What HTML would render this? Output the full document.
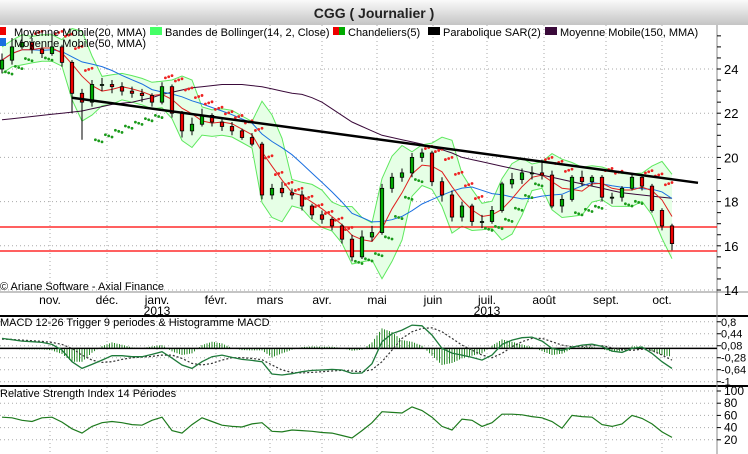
<!DOCTYPE html>
<html><head><meta charset="utf-8"><style>
html,body{margin:0;padding:0;background:#fff;}
svg{display:block;font-family:"Liberation Sans",sans-serif;}
</style></head><body>
<svg id="c" width="748" height="454" viewBox="0 0 748 454" xmlns="http://www.w3.org/2000/svg">
<defs><linearGradient id="tg" x1="0" y1="0" x2="0" y2="1"><stop offset="0" stop-color="#fafafa"/><stop offset="1" stop-color="#c4c4c4"/></linearGradient></defs>
<rect x="0" y="0" width="748" height="25" fill="url(#tg)"/>
<text x="374" y="18" text-anchor="middle" font-size="14" font-weight="bold" fill="#222">CGG  ( Journalier )</text>
<g id="grid"></g><g id="main"></g><g id="ind"></g>
<g font-size="11" fill="#000">
<rect x="0" y="27" width="6" height="8" fill="#e00"/>
<text x="14" y="36">Moyenne Mobile(20, MMA)</text>
<rect x="150" y="27" width="12" height="8" fill="#44ff66"/>
<text x="165" y="36">Bandes de Bollinger(14, 2, Close)</text>
<rect x="333" y="27" width="6" height="8" fill="#e00"/><rect x="339" y="27" width="6" height="8" fill="#0a0"/>
<text x="348" y="36">Chandeliers(5)</text>
<rect x="428" y="27" width="12" height="8" fill="#000"/>
<text x="443" y="36">Parabolique SAR(2)</text>
<rect x="545" y="27" width="12" height="8" fill="#3a0a3a"/>
<text x="560" y="36">Moyenne Mobile(150, MMA)</text>
<rect x="0" y="38" width="6" height="8" fill="#1a6fe0"/>
<text x="14" y="47">Moyenne Mobile(50, MMA)</text>
</g>
<text x="0" y="290" font-size="11" fill="#000">© Ariane Software - Axial Finance</text>
<text x="0" y="326" font-size="11">MACD 12-26   Trigger 9 periodes &amp; Histogramme MACD</text>
<text x="0" y="397" font-size="11">Relative Strength Index 14 Périodes</text>
</svg>
<script>
const closes=[24.4,25.0,25.2,24.9,24.7,25.0,24.3,22.9,22.5,23.3,23.3,23.2,23.0,22.9,22.8,22.5,23.2,22.0,21.2,21.5,21.9,21.6,21.4,21.2,20.9,20.6,18.3,18.6,18.4,18.3,17.8,17.4,17.2,16.9,16.3,15.5,16.4,16.6,18.6,19.1,19.3,20.0,20.2,18.9,18.3,17.3,17.8,17.1,17.1,17.6,18.8,19.0,19.3,19.3,19.2,17.8,18.1,19.1,18.9,19.1,18.2,18.2,18.6,19.1,18.7,17.6,16.9,16.1];
const opens=[24.0,24.4,25.0,25.2,24.9,24.7,25.0,24.3,22.9,22.5,23.3,23.3,23.2,23.0,22.9,22.8,22.5,23.2,22.0,21.2,21.5,21.9,21.6,21.4,21.2,20.9,20.6,18.3,18.6,18.4,18.3,17.8,17.4,17.2,16.9,16.3,15.5,16.4,16.6,18.6,19.1,19.3,20.0,20.2,18.9,18.3,17.3,17.8,17.1,17.1,17.6,18.8,19.0,19.3,19.3,19.2,17.8,18.1,19.1,18.9,19.1,18.2,18.2,18.6,19.1,18.7,17.6,16.9];
const highs=[24.7,25.4,25.6,25.4,25.1,25.6,25.1,24.4,23.1,23.5,23.6,23.5,23.4,23.2,23.1,22.9,23.4,23.3,22.1,21.8,22.2,22.0,21.8,21.6,21.3,21.1,20.7,18.8,18.9,18.6,18.5,17.9,17.6,17.3,17.0,16.5,16.7,16.9,18.8,19.3,19.5,20.2,20.4,20.3,19.1,18.5,18.0,17.9,17.4,17.8,18.9,19.3,19.5,19.6,19.9,19.4,18.3,19.2,19.4,19.2,19.2,18.4,18.7,19.3,19.2,18.8,17.7,17.0];
const lows=[23.8,24.2,24.9,24.7,24.5,24.6,24.1,22.0,20.8,22.3,23.0,22.9,22.8,22.7,22.5,22.3,22.4,21.8,20.9,21.0,21.4,21.4,21.2,21.0,20.8,20.5,18.1,18.1,18.2,18.1,17.6,17.2,17.0,16.7,16.1,15.3,15.4,16.2,16.5,18.4,18.9,19.1,19.8,18.7,18.0,17.1,17.1,16.9,16.8,17.0,17.5,18.6,18.8,19.0,19.0,17.7,17.5,18.0,18.7,18.7,18.0,17.9,18.0,18.5,18.5,17.5,16.7,15.8];
const ma150=[21.7,21.75,21.8,21.85,21.9,21.95,22.0,22.05,22.1,22.2,22.3,22.4,22.45,22.5,22.6,22.7,22.85,22.95,23.05,23.15,23.2,23.25,23.3,23.3,23.3,23.25,23.2,23.1,23.0,22.9,22.85,22.7,22.5,22.2,21.9,21.6,21.4,21.2,21.0,20.9,20.8,20.7,20.6,20.45,20.35,20.2,20.0,19.9,19.8,19.7,19.6,19.5,19.4,19.3,19.2,19.1,19.0,18.9,18.8,18.7,18.6,18.5,18.4,18.35,18.3,18.25,18.2,18.15];
const macd=[0.30,0.26,0.22,0.2,0.18,0.12,-0.05,-0.4,-0.6,-0.48,-0.35,-0.22,-0.22,-0.25,-0.25,-0.18,-0.1,-0.29,-0.5,-0.6,-0.4,-0.25,-0.2,-0.27,-0.33,-0.36,-0.4,-0.77,-0.8,-0.76,-0.7,-0.66,-0.65,-0.63,-0.65,-0.75,-0.74,-0.46,0.2,0.44,0.55,0.7,0.68,0.4,0.0,-0.14,-0.2,-0.27,-0.35,-0.2,0.12,0.25,0.32,0.34,0.22,0.0,-0.06,0.04,0.1,0.13,0.06,-0.08,-0.12,0.0,0.04,-0.15,-0.4,-0.6];
const signal=[0.28,0.27,0.25,0.23,0.21,0.18,0.12,0.0,-0.2,-0.35,-0.42,-0.4,-0.33,-0.28,-0.26,-0.24,-0.2,-0.2,-0.3,-0.45,-0.5,-0.45,-0.35,-0.28,-0.28,-0.3,-0.34,-0.5,-0.65,-0.72,-0.74,-0.72,-0.7,-0.68,-0.66,-0.68,-0.7,-0.64,-0.4,-0.05,0.3,0.5,0.6,0.62,0.5,0.3,0.1,-0.05,-0.2,-0.28,-0.15,0.05,0.2,0.3,0.3,0.2,0.1,0.05,0.06,0.08,0.08,0.02,-0.04,-0.06,-0.02,-0.06,-0.2,-0.35];
const rsi=[57,56,52,50,56,57,49,38,31,42,48,50,48,45,44,52,57,35,31,45,56,50,44,42,41,46,48,34,33,36,35,34,32,31,27,23,35,48,66,65,64,74,68,57,42,36,54,52,42,48,62,62,61,58,56,50,39,60,58,57,45,42,46,60,55,46,33,24];
const months=["nov.","déc.","janv.","févr.","mars","avr.","mai","juin","juil.","août","sept.","oct."];
const monthIdx=[4.8,10.5,15.5,21.4,26.8,32,37.5,43.1,48.5,54.2,60.4,66];
const priceTicks=[14,16,18,20,22,24];
const macdTicks=[0.8,0.44,0.08,-0.28,-0.64,-1];
const macdLabels=["0,8","0,44","0,08","-0,28","-0,64","-1"];
const rsiTicks=[20,40,60,80,100];
const trend=[[7,22.7],[69.6,18.85]];
const supports=[16.85,15.75];

const NS="http://www.w3.org/2000/svg";
const X=i=>2+10*i;
const PY=p=>69+(24-p)*22.1;
const MY=v=>348.4-v*33.3;
const RY=v=>452-v*0.61;
const AX=717;
function mk(t,a,par){const e=document.createElementNS(NS,t);for(const k in a)e.setAttribute(k,a[k]);(par||svg).appendChild(e);return e;}
const svg=document.getElementById('c');
const G=document.getElementById('grid'),M=document.getElementById('main'),I=document.getElementById('ind');

let r=mk('rect',{x:0,y:25,width:748,height:429,fill:'#fff'},G);


priceTicks.forEach(p=>{let l=mk('line',{x1:0,x2:AX,y1:PY(p),y2:PY(p),stroke:'#aaa','stroke-dasharray':'1,3'},G);

});
macdTicks.forEach(v=>{let l=mk('line',{x1:0,x2:AX,y1:MY(v),y2:MY(v),stroke:'#aaa','stroke-dasharray':'1,3'},G);

});
rsiTicks.forEach(v=>{let l=mk('line',{x1:0,x2:AX,y1:RY(v),y2:RY(v),stroke:'#aaa','stroke-dasharray':'1,3'},G);

});
monthIdx.forEach((m,k)=>{const x=X(m);
[[25,292],[317,386],[387,454]].forEach(s=>{let l=mk('line',{x1:x,x2:x,y1:s[0],y2:s[1],stroke:'#aaa','stroke-dasharray':'1,3'},G);

});
let t=mk('text',{x:x,y:304,'text-anchor':'middle','font-size':12,fill:'#000'},G);t.textContent=months[k];


if(months[k]==="janv."||months[k]==="juil."){let y=mk('text',{x:x,y:315,'text-anchor':'middle','font-size':12},G);y.textContent="2013";

}
});
[[292,1,'#888'],[316,2,'#000'],[386,2,'#000']].forEach(s=>{let l=mk('line',{x1:0,x2:748,y1:s[0],y2:s[0],stroke:s[2],'stroke-width':s[1]},G);

});
let ax=mk('line',{x1:AX,x2:AX,y1:25,y2:454,stroke:'#888'},G);


for(let p=13.5;p<=25.6;p+=0.5){const y=PY(p);if(y<27||y>292)continue;mk('line',{x1:AX,x2:AX+4,y1:y,y2:y,stroke:'#000'},G);}
priceTicks.forEach(p=>{let t=mk('text',{x:AX+7,y:PY(p)+5,'font-size':13},G);t.textContent=p;

});
macdTicks.forEach((v,k)=>{mk('line',{x1:AX,x2:AX+4,y1:MY(v),y2:MY(v),stroke:'#000'},G);let t=mk('text',{x:AX+4,y:MY(v)+4,'font-size':11},G);t.textContent=macdLabels[k];

});
rsiTicks.forEach(v=>{mk('line',{x1:AX,x2:AX+4,y1:RY(v),y2:RY(v),stroke:'#000'},G);let t=mk('text',{x:AX+7,y:RY(v)+4,'font-size':12},G);t.textContent=v;

});

const pts=(arr,fy)=>arr.map((v,i)=>X(i)+','+fy(v).toFixed(1)).join(' ');
function sma(n){return closes.map((c,i)=>{const s=closes.slice(Math.max(0,i-n+1),i+1);return s.reduce((a,b)=>a+b,0)/s.length;});}
const ma20=sma(4),ma50=sma(10);
const up=[],lo=[];
closes.forEach((c,i)=>{const s=closes.slice(Math.max(0,i-3),i+1);const m=s.reduce((a,b)=>a+b,0)/s.length;const sd=Math.sqrt(s.reduce((a,b)=>a+(b-m)*(b-m),0)/s.length);const w=Math.max(2*sd,0.6);up.push(m+w);lo.push(m-w);});
let band=mk('polygon',{points:pts(up,PY)+' '+lo.map((v,i)=>X(i)+','+PY(v).toFixed(1)).reverse().join(' '),fill:'#e6ffe6',stroke:'none'},M);


[up,lo].forEach(a=>{let l=mk('polyline',{points:pts(a,PY),fill:'none',stroke:'#5ee85e','stroke-width':1},M);

});
supports.forEach(p=>{const y=Math.round(PY(p));let l=mk('line',{x1:0,x2:AX,y1:y,y2:y,stroke:'#ff0000','stroke-width':1.3},M);

});
let l150=mk('polyline',{points:pts(ma150,PY),fill:'none',stroke:'#3a0a3a','stroke-width':1},M);


let l50=mk('polyline',{points:pts(ma50,PY),fill:'none',stroke:'#1a6fe0','stroke-width':1},M);


let l20=mk('polyline',{points:pts(ma20,PY),fill:'none',stroke:'#e02020','stroke-width':1},M);


(function(){let longT=closes[1]>closes[0],af=0.08,ep=longT?highs[0]:lows[0],sar=longT?lows[0]:highs[0];const out=[];
for(let i=1;i<closes.length;i++){sar=sar+af*(ep-sar);
if(longT){if(lows[i]<sar){longT=false;sar=ep;ep=lows[i];af=0.08;}else{if(highs[i]>ep){ep=highs[i];af=Math.min(af+0.08,0.4);}}}
else{if(highs[i]>sar){longT=true;sar=ep;ep=highs[i];af=0.08;}else{if(lows[i]<ep){ep=lows[i];af=Math.min(af+0.08,0.4);}}}
out.push([i,sar,longT]);}
out.forEach(o=>{for(let k=0;k<3;k++){let d=mk('circle',{cx:X(o[0])-6.6+3.3*k,cy:PY(o[1]+(o[2]?-0.05*k:0.05*k)),r:1.4,fill:o[2]?'#1a9a1a':'#ee2222'},M);

}});})();
closes.forEach((c,i)=>{const o=opens[i],x=X(i);const g=mk('g',{},M);


mk('line',{x1:x,x2:x,y1:PY(highs[i]),y2:PY(lows[i]),stroke:'#000'},g);
const t=PY(Math.max(o,c)),b=PY(Math.min(o,c));
mk('rect',{x:x-1.7,y:t,width:3.4,height:Math.max(1,b-t),fill:c<o?'#e00':'#0a0',stroke:'#000','stroke-width':0.8},g);});
let tl=mk('line',{x1:X(trend[0][0]),y1:PY(trend[0][1]),x2:X(trend[1][0]),y2:PY(trend[1][1]),stroke:'#000','stroke-width':2.5},M);



for(let i=0;i<macd.length-1;i++)for(let k=0;k<4;k++){const f=k/4;const h=((macd[i]-signal[i])*(1-f)+(macd[i+1]-signal[i+1])*f);const x=X(i)+f*10;
let b=mk('line',{x1:x,x2:x,y1:MY(0),y2:MY(h),stroke:'#2a8a2a','stroke-width':1},I);

}
let z=mk('line',{x1:0,x2:AX,y1:MY(0),y2:MY(0),stroke:'#000','stroke-width':1.5},I);


let sl=mk('polyline',{points:pts(signal,MY),fill:'none',stroke:'#333','stroke-width':1.2,'stroke-dasharray':'2,2'},I);


let ml=mk('polyline',{points:pts(macd,MY),fill:'none',stroke:'#1e7a3a','stroke-width':1.3},I);


let rl=mk('polyline',{points:pts(rsi,RY),fill:'none',stroke:'#1e7a1e','stroke-width':1.2},I);


</script>
</body></html>
